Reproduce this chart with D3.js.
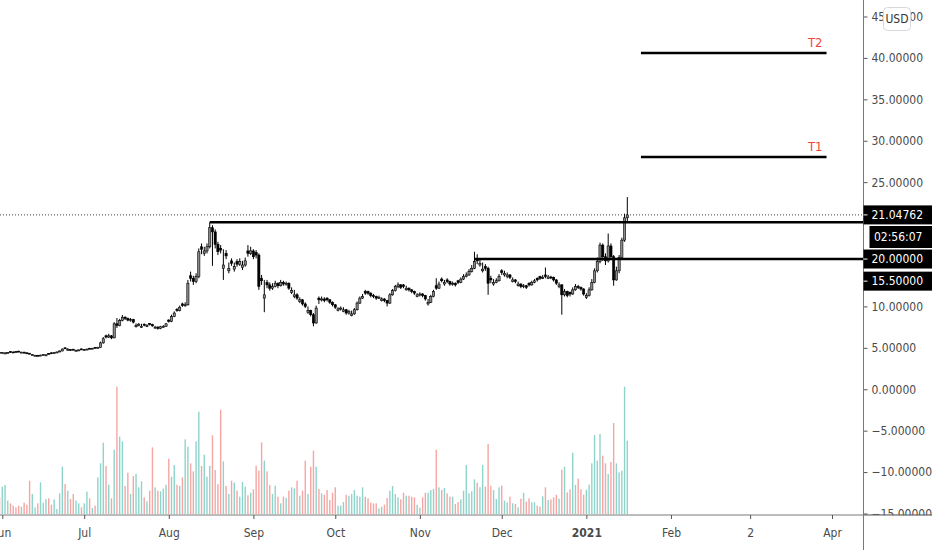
<!DOCTYPE html>
<html>
<head>
<meta charset="utf-8">
<script src="https://cdnjs.cloudflare.com/ajax/libs/d3/7.8.5/d3.min.js"></script>
<style>
  html, body { margin: 0; padding: 0; background: #fff; overflow: hidden; }
  svg { display: block; }
  text { font-family: "DejaVu Sans Condensed", "Liberation Sans", sans-serif; }
</style>
</head>
<body>
<div id="chart"></div>
<script>
// daily candles, 2020-05-31 .. 2021-01-16
const opens = [
  4.45, 4.40, 4.33, 4.38, 4.54, 4.50, 4.56, 4.60, 4.43, 4.48,
  4.40, 4.35, 4.12, 4.04, 4.10, 4.05, 4.12, 4.10, 4.33, 4.40,
  4.35, 4.42, 4.50, 4.62, 5.00, 4.74, 4.80, 4.83, 4.65, 4.70,
  4.87, 4.73, 4.78, 4.95, 4.90, 5.06, 5.00, 5.05, 5.60, 6.45,
  6.30, 6.45, 6.20, 7.90, 7.70, 8.30, 8.70, 8.55, 8.35, 8.40,
  7.55, 7.70, 7.45, 7.85, 7.58, 7.92, 7.80, 7.38, 7.50, 7.35,
  7.55, 7.60, 8.35, 8.20, 8.80, 9.65, 9.50, 10.30, 10.10, 10.20,
  13.70, 13.40, 13.00, 13.60, 17.20, 16.40, 16.70, 17.20, 19.50, 19.00,
  17.50, 17.00, 14.60, 16.40, 14.30, 15.50, 14.50, 15.40, 15.10, 14.70,
  15.00, 16.70, 16.40, 16.70, 16.50, 16.20, 13.40, 11.00, 12.90, 12.60,
  12.20, 12.40, 12.80, 12.50, 12.90, 12.70, 12.80, 11.70, 11.20, 11.40,
  10.60, 10.80, 10.30, 9.30, 9.50, 9.00, 8.00, 11.00, 10.80, 10.90,
  11.00, 10.80, 10.50, 10.20, 9.50, 9.70, 9.40, 9.60, 9.20, 8.90,
  9.10, 9.60, 10.40, 11.00, 11.80, 11.80, 11.60, 11.30, 11.20, 11.00,
  10.70, 10.90, 10.70, 10.40, 11.40, 11.90, 12.40, 12.60, 12.60, 12.00,
  12.20, 12.00, 11.80, 11.20, 11.40, 11.50, 11.30, 10.30, 10.50, 11.20,
  12.50, 12.20, 13.30, 12.70, 13.20, 13.00, 12.70, 12.80, 13.10, 12.90,
  13.30, 13.60, 13.80, 14.20, 14.60, 15.70, 15.00, 14.30, 14.80, 14.60,
  13.40, 12.70, 12.90, 13.10, 14.30, 13.80, 13.60, 13.80, 13.00, 13.20,
  12.50, 12.70, 12.40, 12.50, 12.80, 12.60, 12.90, 13.40, 13.60, 13.40,
  13.80, 13.40, 13.55, 13.50, 13.20, 12.40, 12.60, 11.40, 11.80, 11.70,
  11.50, 12.00, 12.40, 12.30, 12.10, 11.10, 11.30, 12.00, 12.90, 14.30,
  15.40, 17.40, 16.00, 15.50, 17.30, 16.00, 13.20, 14.30, 15.90, 18.00, 20.70
];
const highs = [
  4.50, 4.50, 4.47, 4.47, 4.58, 4.55, 4.60, 4.64, 4.52, 4.52,
  4.44, 4.38, 4.24, 4.15, 4.14, 4.17, 4.25, 4.22, 4.37, 4.45,
  4.47, 4.55, 4.68, 4.92, 5.06, 4.98, 4.84, 4.88, 4.78, 4.80,
  4.91, 4.86, 4.90, 4.99, 5.00, 5.10, 5.12, 5.75, 6.30, 6.60,
  6.70, 6.55, 8.10, 8.60, 8.50, 8.95, 8.80, 8.65, 8.60, 8.50,
  7.95, 8.00, 7.90, 7.95, 7.85, 8.00, 7.90, 7.65, 7.60, 7.65,
  7.75, 8.00, 8.45, 9.00, 9.40, 9.80, 10.10, 10.45, 10.50, 13.20,
  14.20, 13.70, 14.00, 17.00, 17.60, 17.20, 17.60, 20.15, 19.80, 19.30,
  17.80, 17.40, 16.90, 16.80, 15.30, 15.80, 15.30, 15.70, 15.80, 15.50,
  15.90, 17.40, 17.20, 16.90, 16.80, 16.40, 13.80, 13.20, 13.20, 12.90,
  12.80, 13.10, 12.90, 13.20, 13.10, 13.00, 12.90, 12.30, 12.00, 11.60,
  11.10, 10.90, 10.50, 10.00, 9.60, 9.20, 10.10, 11.20, 11.20, 11.10,
  11.10, 10.90, 10.60, 10.30, 9.90, 10.00, 9.90, 9.70, 9.60, 9.50,
  9.80, 10.60, 11.20, 11.50, 12.00, 11.90, 11.70, 11.50, 11.30, 11.30,
  11.10, 11.00, 10.80, 11.60, 12.10, 12.60, 12.90, 12.70, 12.70, 12.50,
  12.30, 12.10, 11.90, 11.60, 11.70, 11.60, 11.40, 10.90, 11.40, 12.00,
  13.40, 13.00, 13.50, 13.20, 13.40, 13.10, 13.00, 12.90, 13.20, 13.50,
  13.90, 14.10, 14.50, 15.00, 16.60, 16.30, 15.70, 15.30, 15.10, 14.80,
  13.70, 13.30, 13.40, 13.90, 14.50, 14.30, 14.10, 13.90, 13.50, 13.30,
  13.00, 12.80, 12.70, 12.60, 12.90, 13.10, 13.30, 13.50, 13.70, 13.80,
  14.70, 13.80, 13.70, 13.60, 13.30, 12.90, 12.70, 12.10, 11.90, 11.80,
  12.30, 12.70, 12.60, 12.40, 12.20, 11.60, 12.30, 13.30, 14.60, 15.90,
  17.70, 17.60, 16.40, 18.80, 17.60, 16.20, 14.80, 16.20, 18.30, 21.20, 23.20
];
const lows = [
  4.36, 4.36, 4.30, 4.35, 4.45, 4.43, 4.48, 4.50, 4.40, 4.36,
  4.31, 4.25, 4.08, 4.00, 4.00, 4.02, 4.09, 4.07, 4.24, 4.30,
  4.32, 4.39, 4.47, 4.58, 4.88, 4.70, 4.67, 4.74, 4.62, 4.66,
  4.77, 4.70, 4.75, 4.85, 4.86, 4.95, 4.96, 5.00, 5.50, 6.15,
  6.20, 6.05, 6.15, 7.40, 7.60, 8.20, 8.35, 8.20, 8.15, 7.95,
  7.45, 7.60, 7.40, 7.60, 7.50, 7.70, 7.55, 7.30, 7.20, 7.25,
  7.45, 7.55, 8.05, 8.10, 8.70, 9.35, 9.40, 9.95, 9.95, 10.10,
  13.00, 12.60, 12.80, 13.40, 16.30, 16.10, 16.40, 17.00, 14.90, 17.00,
  16.20, 16.40, 13.20, 15.70, 14.00, 14.90, 14.20, 14.80, 14.90, 14.40,
  14.80, 16.00, 16.20, 15.70, 15.80, 12.00, 12.60, 9.30, 12.20, 11.90,
  12.00, 12.30, 12.20, 12.40, 12.50, 12.50, 12.00, 11.50, 11.00, 10.80,
  10.40, 10.10, 9.80, 9.10, 8.80, 7.60, 7.90, 10.30, 10.60, 10.50,
  10.60, 10.30, 10.00, 9.70, 9.40, 9.50, 9.30, 9.00, 9.00, 8.80,
  9.00, 9.50, 10.30, 10.90, 11.40, 11.40, 11.10, 11.00, 10.80, 10.90,
  10.60, 10.50, 10.00, 10.30, 11.30, 11.80, 12.20, 12.10, 12.20, 11.90,
  11.80, 11.60, 11.40, 11.10, 11.20, 11.10, 10.70, 10.10, 10.40, 11.10,
  12.00, 12.10, 12.90, 12.50, 12.80, 12.50, 12.50, 12.40, 12.70, 12.80,
  13.20, 13.50, 13.70, 14.10, 14.50, 15.10, 14.80, 14.10, 14.30, 11.40,
  12.80, 12.50, 12.80, 13.00, 13.80, 13.60, 13.40, 13.30, 12.90, 12.80,
  12.40, 12.20, 12.20, 12.10, 12.40, 12.50, 12.80, 13.00, 13.20, 13.30,
  13.40, 13.30, 13.30, 13.00, 12.60, 12.20, 9.00, 11.20, 11.10, 11.20,
  11.40, 11.90, 12.10, 11.90, 11.30, 10.90, 11.20, 11.90, 12.80, 14.10,
  15.20, 15.50, 15.00, 15.30, 15.60, 12.50, 13.10, 14.00, 15.70, 17.80, 20.30
];
const closes = [
  4.40, 4.45, 4.38, 4.42, 4.50, 4.47, 4.52, 4.55, 4.48, 4.40,
  4.35, 4.30, 4.18, 4.10, 4.05, 4.12, 4.20, 4.15, 4.28, 4.35,
  4.42, 4.50, 4.62, 4.85, 4.95, 4.80, 4.72, 4.78, 4.70, 4.75,
  4.82, 4.78, 4.85, 4.90, 4.95, 5.00, 5.05, 5.60, 6.10, 6.30,
  6.45, 6.20, 7.90, 7.70, 8.30, 8.70, 8.55, 8.35, 8.40, 8.10,
  7.70, 7.85, 7.60, 7.75, 7.70, 7.80, 7.65, 7.50, 7.35, 7.55,
  7.60, 7.90, 8.20, 8.80, 9.20, 9.50, 9.90, 10.10, 10.20, 12.80,
  13.40, 13.00, 13.60, 16.60, 16.90, 16.70, 17.20, 19.50, 19.00, 17.50,
  16.60, 16.80, 15.00, 16.10, 14.60, 15.20, 14.80, 15.10, 15.40, 15.00,
  15.50, 16.40, 16.70, 16.00, 16.20, 12.40, 13.10, 11.40, 12.60, 12.20,
  12.40, 12.80, 12.50, 12.90, 12.70, 12.80, 12.20, 11.90, 11.40, 11.00,
  10.80, 10.30, 10.00, 9.50, 9.00, 8.00, 9.80, 10.80, 10.90, 10.70,
  10.80, 10.50, 10.20, 9.90, 9.70, 9.80, 9.60, 9.20, 9.40, 9.10,
  9.60, 10.40, 11.00, 11.20, 11.60, 11.60, 11.30, 11.20, 11.00, 11.10,
  10.90, 10.70, 10.40, 11.40, 11.90, 12.40, 12.60, 12.30, 12.40, 12.20,
  12.00, 11.80, 11.60, 11.40, 11.50, 11.30, 10.90, 10.50, 11.20, 11.80,
  12.20, 12.70, 13.10, 12.90, 13.00, 12.70, 12.80, 12.60, 12.90, 13.30,
  13.60, 13.80, 14.20, 14.60, 15.40, 15.50, 15.20, 14.50, 14.60, 12.80,
  13.20, 12.90, 13.10, 13.60, 14.10, 14.00, 13.80, 13.50, 13.20, 13.00,
  12.70, 12.40, 12.50, 12.30, 12.60, 12.90, 13.10, 13.20, 13.40, 13.50,
  13.60, 13.55, 13.50, 13.20, 12.80, 12.60, 11.40, 11.80, 11.30, 11.50,
  12.00, 12.40, 12.30, 12.10, 11.50, 11.30, 12.00, 12.90, 14.30, 15.40,
  17.40, 16.00, 15.50, 17.30, 16.00, 13.20, 14.30, 15.90, 18.00, 20.70, 21.05
];
const volumes = [
  50, 82, 87, 40, 32, 25, 20, 25, 22, 34,
  28, 100, 60, 20, 32, 95, 34, 45, 47, 28,
  44, 15, 62, 142, 90, 70, 45, 60, 40, 32,
  20, 32, 67, 47, 18, 25, 110, 152, 214, 144,
  88, 47, 193, 382, 232, 218, 84, 124, 60, 114,
  120, 80, 98, 50, 38, 70, 200, 80, 70, 68,
  76, 88, 166, 112, 147, 88, 84, 110, 224, 202,
  152, 128, 218, 307, 144, 178, 112, 145, 236, 132,
  89, 313, 158, 84, 60, 100, 94, 70, 52, 96,
  82, 56, 64, 74, 145, 130, 215, 160, 128, 87,
  60, 85, 52, 32, 52, 48, 70, 80, 77, 100,
  55, 70, 160, 60, 142, 190, 142, 75, 62, 58,
  72, 42, 64, 80, 25, 25, 36, 58, 55, 60,
  72, 55, 52, 80, 52, 47, 34, 32, 32, 17,
  22, 28, 48, 70, 84, 60, 50, 44, 64, 55,
  55, 52, 50, 28, 19, 50, 64, 64, 72, 75,
  193, 80, 72, 78, 62, 52, 52, 30, 36, 44,
  70, 147, 62, 68, 104, 94, 80, 147, 82, 210,
  85, 72, 45, 80, 85, 40, 35, 52, 32, 30,
  20, 46, 64, 37, 47, 35, 35, 25, 22, 53,
  80, 42, 44, 50, 58, 46, 133, 142, 65, 74,
  184, 87, 106, 74, 58, 73, 88, 152, 237, 160,
  240, 175, 152, 120, 156, 273, 152, 125, 130, 382, 220
];

// price axis (15 and 20 are hidden behind the line labels)
const priceTicks = [-15, -10, -5, 0, 5, 10, 25, 30, 35, 40, 45];

// time axis
const timeTicks = ["2020-06-01", "2020-07-01", "2020-08-01", "2020-09-01", "2020-10-01",
  "2020-11-01", "2020-12-01", "2021-01-01", "2021-02-01", "2021-03-02", "2021-04-01"];
const timeLabels = ["Jun", "Jul", "Aug", "Sep", "Oct", "Nov", "Dec", "2021", "Feb", "2", "Apr"];

// support lines drawn from a start day to the price scale
const levelValues = [20.15, 15.72];
const levelStarts = ["2020-08-16", "2020-11-21"];

// targets
const targetValues = [28.05, 40.6];
const targetLabels = ["T1", "T2"];
const targetSpan = ["2021-01-21", "2021-03-30"];

// labels on the price scale
const lastPrice = 21.04762;
const scaleBoxTexts = ["21.04762", "02:56:07", "20.00000", "15.50000"];
const scaleBoxAt = [21.04762, 18.38, 15.72, 13.05];

const W = 932, H = 550;
const plotRight = 863.5, plotBottom = 515;
const fontSize = 12;

const parse = d3.utcParse("%Y-%m-%d");
const dates = d3.utcDay.range(new Date(Date.UTC(2020, 4, 31)), new Date(Date.UTC(2021, 0, 17)));

const x = d3.scaleUtc()
  .domain([parse("2020-06-01"), parse("2021-04-01")])
  .range([2.3, 832]);
const y = d3.scaleLinear().domain([-15, 45]).range([513.5, 16.5]);
const vy = d3.scaleLinear().domain([0, 382]).range([514, 386.7]);

const svg = d3.select('#chart').append('svg')
  .attr('width', W).attr('height', H);

svg.append('defs').append('clipPath').attr('id', 'plot-clip')
  .append('rect').attr('x', 0).attr('y', 0).attr('width', plotRight).attr('height', plotBottom);

const plot = svg.append('g').attr('clip-path', 'url(#plot-clip)');

// volume
plot.append('g').selectAll('rect')
  .data(d3.range(dates.length))
  .enter().append('rect')
  .attr('x', i => x(dates[i]) - 0.7)
  .attr('width', 1.4)
  .attr('y', i => vy(volumes[i]))
  .attr('height', i => vy(0) - vy(volumes[i]))
  .attr('fill', i => closes[i] >= opens[i] ? '#8fd4cb' : '#f5a6a3');

// last price dotted line
plot.append('line')
  .attr('x1', 0).attr('x2', plotRight)
  .attr('y1', y(lastPrice)).attr('y2', y(lastPrice))
  .attr('stroke', '#444').attr('stroke-width', 1)
  .attr('stroke-dasharray', '1,2');

// candles
const candle = plot.append('g').selectAll('g')
  .data(d3.range(dates.length))
  .enter().append('g');

candle.append('line')
  .attr('x1', i => x(dates[i])).attr('x2', i => x(dates[i]))
  .attr('y1', i => y(highs[i])).attr('y2', i => y(lows[i]))
  .attr('stroke', '#000').attr('stroke-width', 1);

candle.append('rect')
  .attr('x', i => x(dates[i]) - 1.1)
  .attr('width', 2.2)
  .attr('y', i => y(Math.max(opens[i], closes[i])))
  .attr('height', i => Math.max(1, Math.abs(y(opens[i]) - y(closes[i]))))
  .attr('fill', i => closes[i] >= opens[i] ? '#8a8a8a' : '#000')
  .attr('stroke', '#000').attr('stroke-width', 0.6);

// horizontal levels
plot.append('g').selectAll('line')
  .data(levelValues)
  .enter().append('line')
  .attr('x1', (d, i) => x(parse(levelStarts[i]))).attr('x2', plotRight)
  .attr('y1', d => y(d)).attr('y2', d => y(d))
  .attr('stroke', '#000').attr('stroke-width', 2.5);

// targets
const targets = plot.append('g');
targets.selectAll('line')
  .data(targetValues)
  .enter().append('line')
  .attr('x1', x(parse(targetSpan[0]))).attr('x2', x(parse(targetSpan[1])))
  .attr('y1', d => y(d)).attr('y2', d => y(d))
  .attr('stroke', '#000').attr('stroke-width', 2.5);
targets.selectAll('text')
  .data(targetValues)
  .enter().append('text')
  .attr('x', x(parse(targetSpan[1])) - 4)
  .attr('y', d => y(d) - 6)
  .attr('text-anchor', 'end')
  .attr('fill', '#f0453a')
  .attr('font-size', 13)
  .text((d, i) => targetLabels[i]);

svg.append('line')
  .attr('x1', 0).attr('x2', W).attr('y1', plotBottom).attr('y2', plotBottom)
  .attr('stroke', '#787878').attr('stroke-width', 1);

// price axis
const yAxis = svg.append('g')
  .attr('transform', `translate(${plotRight},0)`)
  .call(d3.axisRight(y).tickValues(priceTicks).tickSize(4).tickPadding(4)
    .tickFormat(d => (d < 0 ? '\u2212' : '') + Math.abs(d).toFixed(5)));
yAxis.select('.domain').remove();
yAxis.selectAll('line').attr('stroke', '#555');
yAxis.selectAll('text').attr('fill', '#4a4a4a').attr('font-size', fontSize).style('font-family', null);

// the -15 label is cut by the time axis line
svg.append('rect')
  .attr('x', plotRight).attr('y', plotBottom + 0.5).attr('width', W - plotRight).attr('height', H - plotBottom)
  .attr('fill', '#fff');

svg.append('line')
  .attr('x1', plotRight).attr('x2', plotRight).attr('y1', 0).attr('y2', H)
  .attr('stroke', '#787878').attr('stroke-width', 1);
svg.append('line')
  .attr('x1', plotRight).attr('x2', W).attr('y1', plotBottom).attr('y2', plotBottom)
  .attr('stroke', '#787878').attr('stroke-width', 1);

// time axis
const xAxis = svg.append('g')
  .attr('transform', `translate(0,${plotBottom})`)
  .call(d3.axisBottom(x).tickValues(timeTicks.map(parse)).tickSize(4).tickPadding(9)
    .tickFormat((d, i) => timeLabels[i]));
xAxis.select('.domain').remove();
xAxis.selectAll('line').attr('stroke', '#555');
xAxis.selectAll('text').attr('fill', '#4a4a4a').attr('font-size', fontSize)
  .attr('font-weight', (d, i) => timeLabels[i] === '2021' ? 'bold' : null);

// USD button over the top label
svg.append('rect')
  .attr('x', 883.5).attr('y', 7.5).attr('width', 27).attr('height', 23).attr('rx', 4)
  .attr('fill', '#fff').attr('stroke', '#d6d8de');
svg.append('text')
  .attr('x', 897).attr('y', 19).attr('dy', '0.35em')
  .attr('text-anchor', 'middle').attr('font-size', fontSize).attr('fill', '#333')
  .text('USD');

// black boxes on the price scale
const boxH = [19, 22, 19, 19];
const boxX = [plotRight, 869.5, plotRight, plotRight];
const boxes = svg.append('g');
boxes.selectAll('rect')
  .data(scaleBoxAt)
  .enter().append('rect')
  .attr('x', (d, i) => boxX[i])
  .attr('y', (d, i) => y(d) - boxH[i] / 2)
  .attr('width', (d, i) => W - boxX[i])
  .attr('height', (d, i) => boxH[i])
  .attr('fill', '#000');
boxes.selectAll('line')
  .data(scaleBoxAt.filter((d, i) => i !== 1))
  .enter().append('line')
  .attr('x1', plotRight).attr('x2', plotRight + 4)
  .attr('y1', d => y(d)).attr('y2', d => y(d))
  .attr('stroke', '#fff');
boxes.selectAll('text')
  .data(scaleBoxAt)
  .enter().append('text')
  .attr('x', (d, i) => i === 1 ? 874 : 871.5)
  .attr('y', d => y(d)).attr('dy', '0.35em')
  .attr('fill', '#fff').attr('font-size', fontSize)
  .text((d, i) => scaleBoxTexts[i]);
</script>
</body>
</html>
